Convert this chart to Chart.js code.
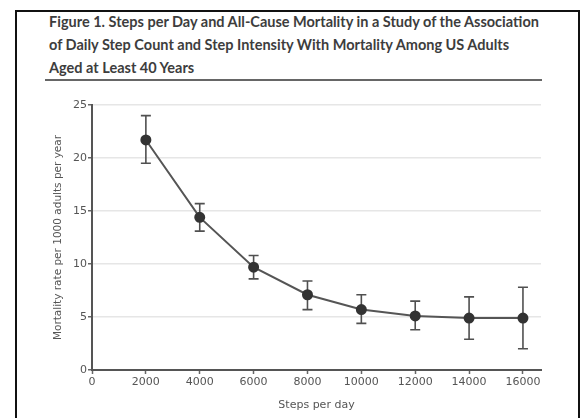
<!DOCTYPE html>
<html>
<head>
<meta charset="utf-8">
<script src="https://cdn.jsdelivr.net/npm/chart.js@4"></script>
<style>
  html, body { margin: 0; padding: 0; background: #fff; width: 584px; height: 418px; overflow: hidden; }
  #frame { position: absolute; left: 15px; top: 10px; width: 561px; height: 420px; border: 2px solid #111; }
  #title { position: absolute; left: 49px; top: 10px; width: 530px; font-family: Lato, sans-serif; font-weight: bold;
           font-size: 14.5px; line-height: 23px; color: #3d3d3d; white-space: nowrap; }
  #rule { position: absolute; left: 45px; top: 79px; width: 497px; height: 2px; background: #666; }
  #wrap { position: absolute; left: 0; top: 90px; width: 584px; height: 328px; }
</style>
</head>
<body>
<div id="frame"></div>
<div id="title">Figure 1. Steps per Day and All-Cause Mortality in a Study of the Association<br>of Daily Step Count and Step Intensity With Mortality Among US Adults<br>Aged at Least 40 Years</div>
<div id="rule"></div>
<div id="wrap"><canvas id="stepsChart"></canvas></div>
<script>
// values
const steps = [2000, 4000, 6000, 8000, 10000, 12000, 14000, 16000];
const rate = [21.7, 14.4, 9.7, 7.1, 5.7, 5.1, 4.9, 4.9];
const lower = [19.5, 13.1, 8.6, 5.7, 4.4, 3.8, 2.9, 2.0];
const upper = [24.0, 15.7, 10.8, 8.4, 7.1, 6.5, 6.9, 7.8];
const xTicks = [0, 2000, 4000, 6000, 8000, 10000, 12000, 14000, 16000];
const yTicks = [0, 5, 10, 15, 20, 25];

const tickColor = '#555';
const axisFont = { family: 'DejaVu Sans', size: 11 };

// draws the vertical error bars with caps, behind the points
const errorBars = {
    id: 'errorBars',
    beforeDatasetsDraw(chart) {
        const ctx = chart.ctx;
        const x = chart.scales.x, y = chart.scales.y;
        ctx.save();
        ctx.strokeStyle = '#505050';
        ctx.lineWidth = 1.6;
        steps.forEach((s, i) => {
            const px = x.getPixelForValue(s);
            const top = y.getPixelForValue(upper[i]);
            const bot = y.getPixelForValue(lower[i]);
            ctx.beginPath();
            ctx.moveTo(px, top); ctx.lineTo(px, bot);
            ctx.moveTo(px - 5, top); ctx.lineTo(px + 5, top);
            ctx.moveTo(px - 5, bot); ctx.lineTo(px + 5, bot);
            ctx.stroke();
        });
        ctx.restore();
    }
};

const ctx = document.getElementById('stepsChart').getContext('2d');
const stepsChart = new Chart(ctx, {
    type: 'line',
    data: {
        datasets: [{
            data: steps.map((s, i) => ({ x: s, y: rate[i] })),
            borderColor: '#555',
            borderWidth: 2,
            pointRadius: 4.5,
            pointBackgroundColor: '#333',
            pointBorderColor: '#333',
            tension: 0
        }]
    },
    options: {
        responsive: true,
        maintainAspectRatio: false,
        animation: false,
        layout: { padding: { left: 46, right: 43, top: 15, bottom: 0 } },
        plugins: { legend: { display: false }, tooltip: { enabled: false } },
        scales: {
            x: {
                type: 'linear',
                min: 0,
                max: 16670, // axis line runs a little past 16000
                afterBuildTicks: scale => { scale.ticks = xTicks.map(v => ({ value: v })); },
                afterFit: scale => { scale.height = 48; },
                ticks: { color: tickColor, font: axisFont, padding: 2, maxRotation: 0, autoSkip: false,
                         callback: v => String(v) },
                grid: { drawOnChartArea: false, tickLength: 4, tickColor: '#666', tickWidth: 1.5 },
                border: { color: '#555', width: 2 },
                title: { display: true, text: 'Steps per day', color: tickColor, font: { family: 'DejaVu Sans', size: 11 }, padding: { top: 4, bottom: 6 } }
            },
            y: {
                min: 0,
                max: 25,
                afterBuildTicks: scale => { scale.ticks = yTicks.map(v => ({ value: v })); },
                afterFit: scale => { scale.width = 46; },
                ticks: { color: tickColor, font: axisFont, padding: 1 },
                grid: { color: '#e6e6e6', lineWidth: 1.5, tickLength: 4, tickColor: '#666' },
                border: { color: '#555', width: 2 },
                title: { display: true, text: 'Mortality rate per 1000 adults per year', color: tickColor, font: { family: 'DejaVu Sans', size: 10.5 }, padding: { top: 6, bottom: 2 } }
            }
        }
    },
    plugins: [errorBars]
});
</script>
</body>
</html>
